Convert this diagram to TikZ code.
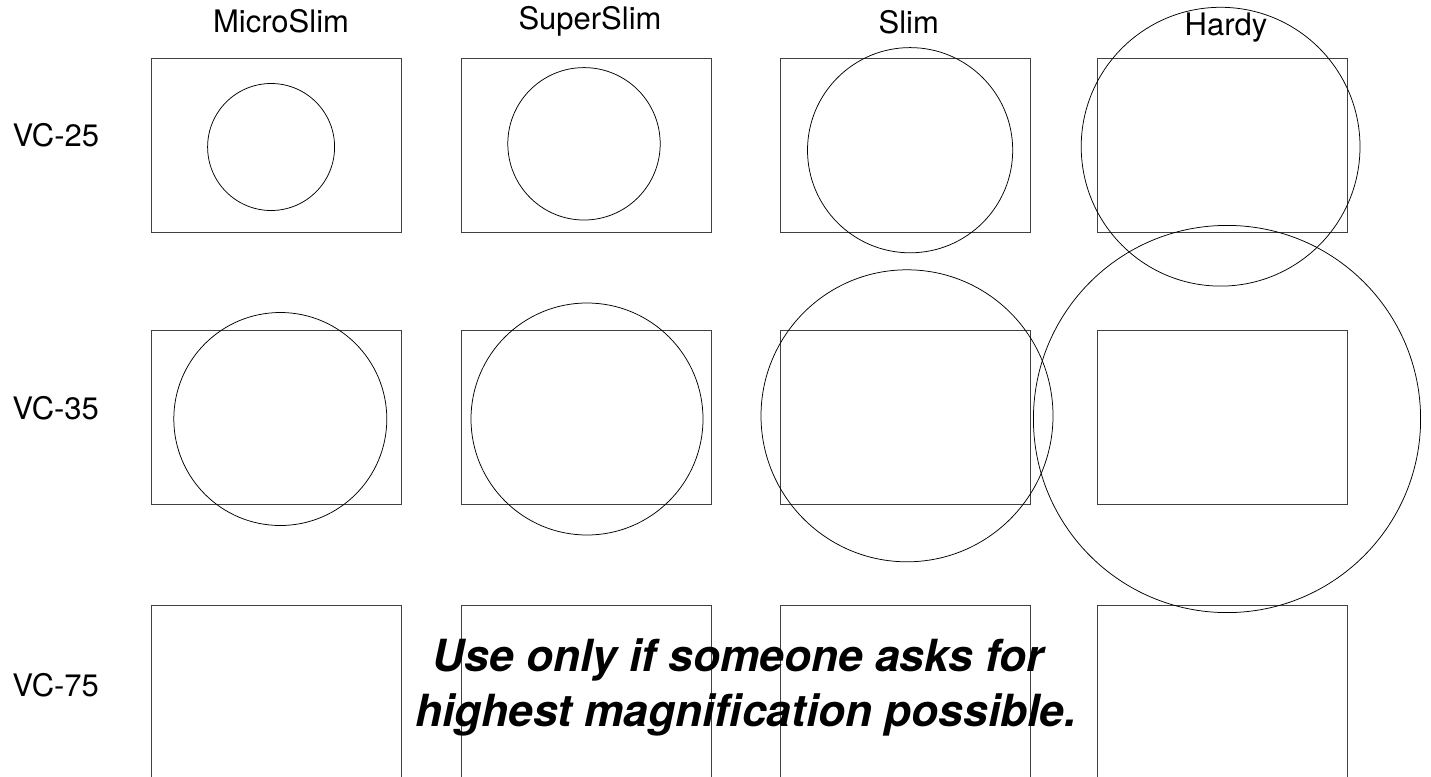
\documentclass[tikz,border=0pt]{standalone}
\usepackage{fontspec}
\setmainfont{TeX Gyre Heros}
\begin{document}
\begin{tikzpicture}[x=1pt,y=-1pt,
  box/.style={draw=black!75, line width=0.9pt},
  lens/.style={draw=black, line width=0.75pt},
  lab/.style={font=\fontsize{31}{37}\selectfont, anchor=base, inner sep=0pt},
  note/.style={font=\fontsize{44.3}{53}\selectfont\bfseries\itshape, anchor=base, inner sep=0pt}]
\clip (0,0) rectangle (1431,776);
\fill[white] (0,0) rectangle (1431,776);
% rectangles
\foreach \cx in {151.4,461,780.6,1097}{
  \foreach \ry in {58.7,330.5,605.7}{
    \draw[box] (\cx,\ry) rectangle ++(250,174);
  }
}
% circles
\draw[lens] (271.1,147)   circle[radius=63.5pt];
\draw[lens] (584,143.8)   circle[radius=76.2pt];
\draw[lens] (910.1,150.2) circle[radius=102.6pt];
\draw[lens] (1220.6,146.7) circle[radius=139.4pt];
\draw[lens] (280.3,419)   circle[radius=106.5pt];
\draw[lens] (587,419)     circle[radius=116pt];
\draw[lens] (907,415.8)   circle[radius=146pt];
\draw[lens] (1227,419)    circle[radius=193.6pt];
% column labels
\node[lab] (micro) at (281,32.3) {MicroSlim};
\node[lab] (super) at (590,29.5) {SuperSlim};
\node[lab] (slim)  at (908.8,33.3) {Slim};
\node[lab] (hardy) at (1226,36) {Hardy};
% row labels
\node[lab] (vc25) at (55.9,146.7) {VC-25};
\node[lab] (vc35) at (55.7,419.3) {VC-35};
\node[lab] (vc75) at (55.7,696.7) {VC-75};
% note
\node[note] (txt1) at (738,671.7) {Use only if someone asks for};
\node[note] (txt2) at (746,726.7) {highest magnification possible.};
\end{tikzpicture}
\end{document}
